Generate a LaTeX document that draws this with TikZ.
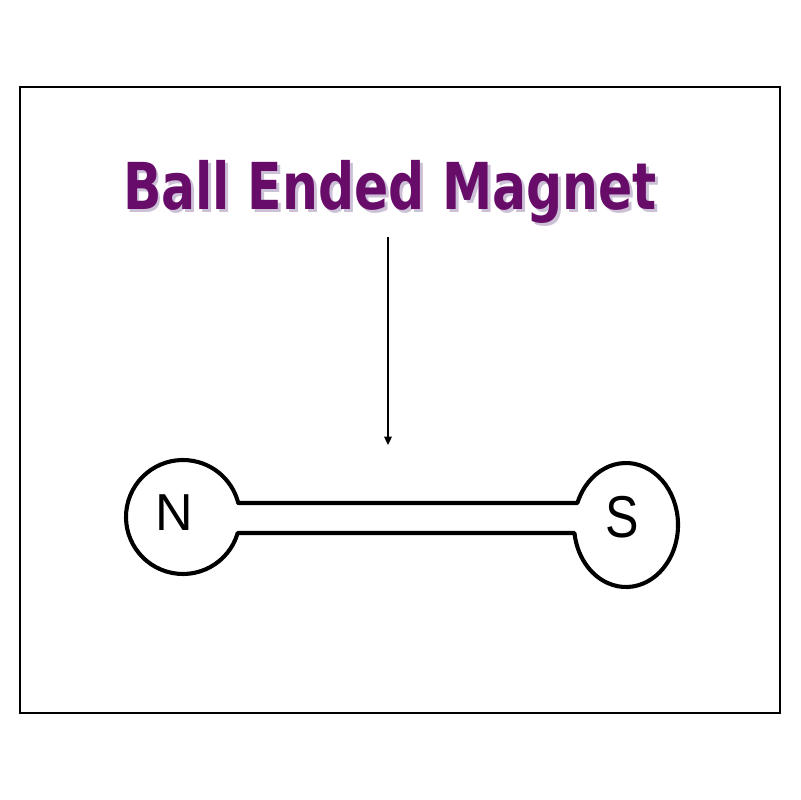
\documentclass[tikz,border=0pt]{standalone}
\usepackage{fontspec}
\usetikzlibrary{arrows.meta}
\newfontfamily\titlefont{DejaVu Sans}
\newfontfamily\polefont{Liberation Sans}
\definecolor{magpurple}{RGB}{104,12,106}
\definecolor{magshadow}{RGB}{204,192,214}
\newcommand{\titleword}{\scalebox{0.78}[1]{Ball Ended Magnet}}
\begin{document}
\begin{tikzpicture}[x=0.025cm,y=0.025cm,
title text/.style={inner sep=0pt,anchor=base,font=\titlefont\bfseries\fontsize{46}{50}\selectfont},
pole/.style={inner sep=0pt,font=\polefont\fontsize{37}{40}\selectfont},
outline/.style={line width=2.9pt,line join=round},
pointer/.style={line width=0.9pt,-{Triangle[length=6pt,width=5.5pt]}}]
\useasboundingbox (0,0) rectangle (800,800);
\draw[line width=0.9pt] (20,87) rectangle (780,713);
\node[title text] (title) at (390,590)
  {\makebox[0pt][l]{\kern2pt\raisebox{-2pt}{\textcolor{magshadow}{\titleword}}}\textcolor{magpurple}{\titleword}};
\node[pole] (N) at (174,287) {N};
\node[pole,font=\polefont\fontsize{42}{44}\selectfont] (S) at (622,283) {\scalebox{0.85}[1]{S}};
\coordinate (arrowtop) at (388,563);
\coordinate (arrowtip) at (388,355);
\draw[pointer] (arrowtop) -- (arrowtip);
\draw[outline] (238.3,297) -- (577.4,297)
  arc[start angle=159.2,end angle=-172.6,x radius=52,y radius=62]
  -- (237.7,267) arc[start angle=-16.3,end angle=-345.8,radius=57] -- cycle;
\end{tikzpicture}
\end{document}
